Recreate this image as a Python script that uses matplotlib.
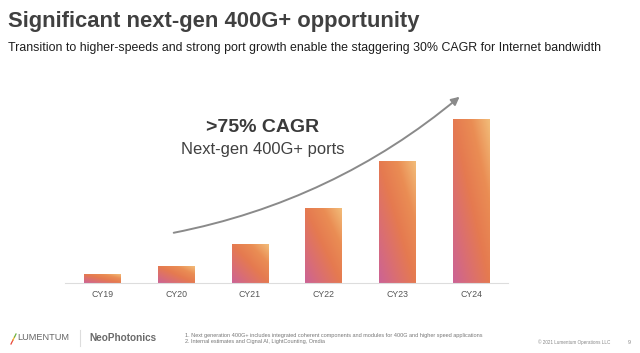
import numpy as np
import matplotlib
matplotlib.use("Agg")
import matplotlib.pyplot as plt
from matplotlib.colors import LinearSegmentedColormap

plt.rcParams['font.family'] = ['Liberation Sans', 'DejaVu Sans']

years = ["CY19", "CY20", "CY21", "CY22", "CY23", "CY24"]
ports = [9, 17, 39, 75, 122, 164]  # relative next-gen 400G+ port volume

title = "Significant next-gen 400G+ opportunity"
subtitle = "Transition to higher-speeds and strong port growth enable the staggering 30% CAGR for Internet bandwidth"
notes = ["1. Next generation 400G+ includes integrated coherent components and modules for 400G and higher speed applications",
         "2. Internal estimates and Cignal AI, LightCounting, Omdia"]

W, H = 640, 353
fig = plt.figure(figsize=(W / 100, H / 100), dpi=100)
fig.patch.set_facecolor("white")

def fy(py):
    return 1 - py / H

# chart area
ax = fig.add_axes([65 / W, fy(282.7), 443 / W, 192.7 / H])
x = np.arange(len(years))
bars = ax.bar(x, ports, width=0.5, color="none", edgecolor="none")
ax.set_xlim(-0.51, 5.5)
ax.set_ylim(0, 192.7)

grad = LinearSegmentedColormap.from_list(
    "g", [(0, "#cc6395"), (0.25, "#da6e72"), (0.5, "#e57a50"), (0.75, "#ea8d54"), (1, "#f2bc79")])
u, v = np.meshgrid(np.linspace(0, 1, 60), np.linspace(0, 1, 120))
t = (u + v) / 2
for b in bars:
    x0, y0 = b.get_x(), b.get_y()
    im = ax.imshow(t, cmap=grad, origin="lower", aspect="auto",
                   extent=[x0, x0 + b.get_width(), y0, y0 + b.get_height()], zorder=2)
    im.set_clip_path(b)

ax.set_xticks(x)
ax.set_xticklabels(years, fontsize=6.3, color="#555555")
ax.tick_params(axis="x", length=0, pad=5)
ax.set_yticks([])
for s in ["top", "left", "right"]:
    ax.spines[s].set_visible(False)
ax.spines["bottom"].set_color("#dddddd")
ax.spines["bottom"].set_linewidth(0.8)

# growth arrow
ax.annotate("", xy=(4.872, 187.7), xytext=(0.928, 49.4),
            arrowprops=dict(arrowstyle="-|>", color="#8a8a8a", lw=1.4,
                            mutation_scale=12, connectionstyle="arc3,rad=0.13"),
            annotation_clip=False)
ax.text(2.176, 154.7, ">75% CAGR", fontsize=14, fontweight="bold", color="#3a3a3a",
        ha="center", va="center")
ax.text(2.17, 133.5, "Next-gen 400G+ ports", fontsize=11.9, color="#404040",
        ha="center", va="center")

# headings
fig.text(8 / W, fy(27), title, fontsize=15.8, fontweight="bold", color="#404040", va="baseline")
fig.text(8 / W, fy(50.5), subtitle, fontsize=8.9, color="#1e1e1e", va="baseline")

# footer
fig.add_artist(plt.Line2D([11 / W, 13 / W], [fy(344), fy(340)], color="#e8473c", lw=0.9))
fig.add_artist(plt.Line2D([13 / W, 14.5 / W], [fy(340), fy(337)], color="#f2b233", lw=0.9))
fig.add_artist(plt.Line2D([14.5 / W, 16 / W], [fy(337), fy(334)], color="#6cb33f", lw=0.9))
fig.text(17 / W, fy(338), "LUMENTUM", fontsize=6.6, color="#666666", va="center")
fig.add_artist(plt.Line2D([80 / W, 80 / W], [fy(330), fy(346)], color="#dddddd", lw=0.8))
fig.text(89 / W, fy(338), "NeoPhotonics", fontsize=7.2, fontweight="bold", color="#6a6a6a", va="center")
fig.text(185 / W, fy(335), notes[0], fontsize=3.95, color="#777777", va="center")
fig.text(185 / W, fy(341), notes[1], fontsize=3.95, color="#777777", va="center")
fig.text(610 / W, fy(342), "\u00a9 2021 Lumentum Operations LLC", fontsize=3.3, color="#888888",
         va="center", ha="right")
fig.text(629 / W, fy(342), "9", fontsize=3.8, color="#888888", va="center", ha="center")

fig.savefig("out.png", dpi=100)
